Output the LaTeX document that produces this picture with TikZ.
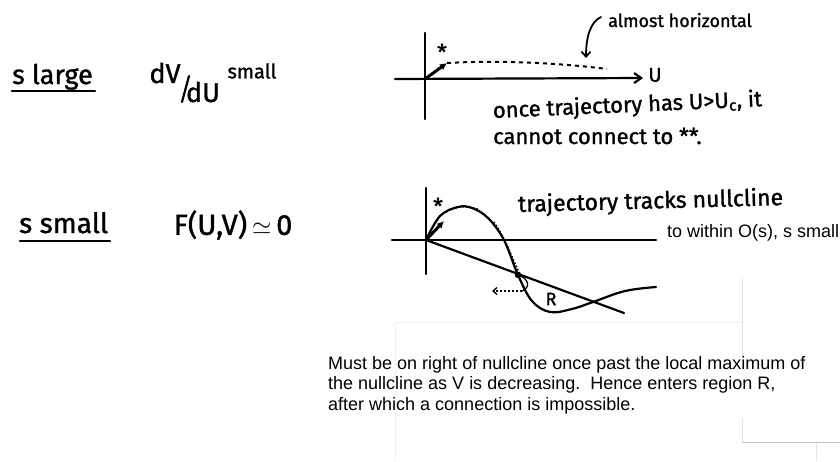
\documentclass[tikz,border=0pt]{standalone}
\usepackage{fontspec}
\setmainfont{Fira Sans}
\newfontfamily\hwfont{Fira Sans}[FakeBold=1.2]
\newfontfamily\arialf{Liberation Sans}
\usetikzlibrary{arrows.meta}
\begin{document}
\begin{tikzpicture}[x=1pt,y=-1pt,
  hw/.style={font=\hwfont\fontsize{#1}{#1}\selectfont, inner sep=0pt},
  hw/.default=18,
  typed/.style={font=\arialf\fontsize{18}{20.5}\selectfont, inner sep=0pt},
  stroke/.style={line width=2.2pt, line cap=round, line join=round},
  faint/.style={draw=gray!#1, line width=0.8pt},
  faint/.default=20]
\useasboundingbox[fill=white] (0,0) rectangle (840,461);

% faint page edges
\draw[faint=12] (395,461) -- (395,322) -- (742,322);
\draw[faint=22] (742,278) -- (742,357);
\draw[faint=22] (742,418) -- (742,442);
\draw[faint=45] (742,442) -- (840,442);
\draw[faint=18] (816,443) -- (816,461);

% left column
\node[hw=27, anchor=base west] (slarge) at (12,84) {s large};
\draw[stroke] (12,91) -- (95,91);
\node[hw=27] (dv) at (165,73) {dV};
\coordinate (sl1) at (189,76);
\coordinate (sl2) at (182,102);
\draw[stroke] (sl1) -- (sl2);
\node[hw=27] (du) at (203,92) {dU};
\node[hw=20] (small1) at (252,71) {small};

\node[hw=28, anchor=base west] (ssmall) at (19,233) {s small};
\draw[stroke] (20,241) -- (110,241);
\node[hw=29] (F) at (233,225) {F(U,V)\,$\simeq$\,0};

% upper plot
\coordinate (o1) at (425,79);
\coordinate (t1) at (425,33);
\coordinate (b1) at (425,119);
\coordinate (l1) at (395,79);
\coordinate (r1) at (643,78);
\draw[stroke] (t1) -- (b1);
\draw[stroke,-{Straight Barb[length=7pt,width=10pt]}] (l1) -- (r1);
\node[hw=20] (U) at (655,75) {U};
\node[hw=22] (star1) at (442,52) {*};
\coordinate (a1) at (447,63);
\draw[line width=3pt, -{Latex[length=7pt,width=7pt]}] (o1) -- (a1);
\coordinate (d1) at (607,69);
\draw[line width=2pt, dash pattern=on 4pt off 4pt] (a1) .. controls (500,60) and (560,63) .. (d1);
\node[hw=18, anchor=base west] (almost) at (608,27) {almost horizontal};
\coordinate (c1) at (601,17);
\coordinate (c2) at (586,58);
\draw[line width=1.8pt, line cap=round, -{Straight Barb[length=5pt,width=9pt]}] (c1) .. controls (590,22) and (586,38) .. (c2);
\node[hw=22, anchor=base west, rotate=2.5] (once) at (493,118) {once trajectory has U>U\textsubscript{c}, it};
\node[hw=22, anchor=base west] (cannot) at (493,144) {cannot connect to **.};

% lower plot
\coordinate (o2) at (426,240);
\draw[stroke] (426,188) -- (426,274);
\draw[stroke] (392,240) -- (656,240);
\draw[stroke] (o2) -- (624,313);
\draw[stroke] plot[smooth, tension=0.6] coordinates {(426,240) (440,216) (458,207) (472,208) (488,218) (504,240) (518,275) (532,301) (550,312) (572,309) (593,302) (625,291) (656,287)};
\coordinate (a2) at (444,221);
\draw[line width=3pt, -{Latex[length=7pt,width=7pt]}] (o2) -- (a2);
\node[hw=22] (star2) at (438,206) {*};
\draw[line width=1.5pt, dotted] (446,212) .. controls (455,206) and (468,205) .. (480,210);
\draw[line width=1.5pt, dotted] (494,222) .. controls (505,238) and (512,258) .. (520,274);
\coordinate (blob) at (518,275);
\fill (blob) circle (3.2pt);
\coordinate (loopend) at (522,291);
\draw[line width=1.3pt] (blob) .. controls (530,279) and (530,288) .. (loopend);
\coordinate (leftend) at (492,291);
\draw[line width=1.3pt, dash pattern=on 2pt off 2pt, -{Straight Barb[length=4pt,width=7pt]}] (loopend) -- (leftend);
\node[hw=18] (R) at (551,299) {R};
\node[hw=23, anchor=base west, rotate=1.5] (tracks) at (518,212) {trajectory tracks nullcline};
\node[typed, anchor=base west] (within) at (667,237) {to within O(s), s small};

% paragraph
\node[typed, anchor=base west] (p1) at (328,369) {Must be on right of nullcline once past the local maximum of};
\node[typed, anchor=base west] (p2) at (328,389.5) {the nullcline as V is decreasing.\ \ Hence enters region R,};
\node[typed, anchor=base west] (p3) at (328,410) {after which a connection is impossible.};
\end{tikzpicture}
\end{document}
